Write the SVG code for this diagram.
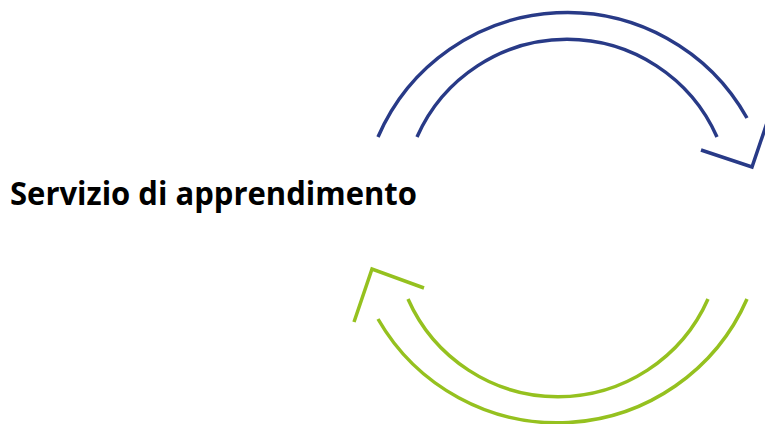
<svg xmlns="http://www.w3.org/2000/svg" width="765" height="424" viewBox="0 0 765 424">
<style>
.blue{fill:none;stroke:#283A87;stroke-width:3.5;stroke-linecap:butt;stroke-linejoin:miter}
.green{fill:none;stroke:#95C11F;stroke-width:3.5;stroke-linecap:butt;stroke-linejoin:miter}
.label{font-family:"Open Sans","Liberation Sans",sans-serif;font-weight:bold;font-size:32px;fill:#000}
</style>
<rect width="765" height="424" fill="#fff"/>
<g id="label">
<text class="label" x="10" y="205" textLength="407" lengthAdjust="spacingAndGlyphs">Servizio di apprendimento</text>
</g>
<g id="connectors">
<g id="blue-arrow">
<path class="blue" d="M378 137 A206 206 0 0 1 747 118"/>
<path class="blue" d="M417 137 A164 164 0 0 1 717 137"/>
<path class="blue" d="M701 150 L752 167 L770 114"/>
</g>
<g id="green-arrow">
<path class="green" d="M747 299 A207 207 0 0 1 378 319"/>
<path class="green" d="M708 299 A164 164 0 0 1 408 299"/>
<path class="green" d="M354 322 L372 269 L424 288"/>
</g>
</g>
</svg>
